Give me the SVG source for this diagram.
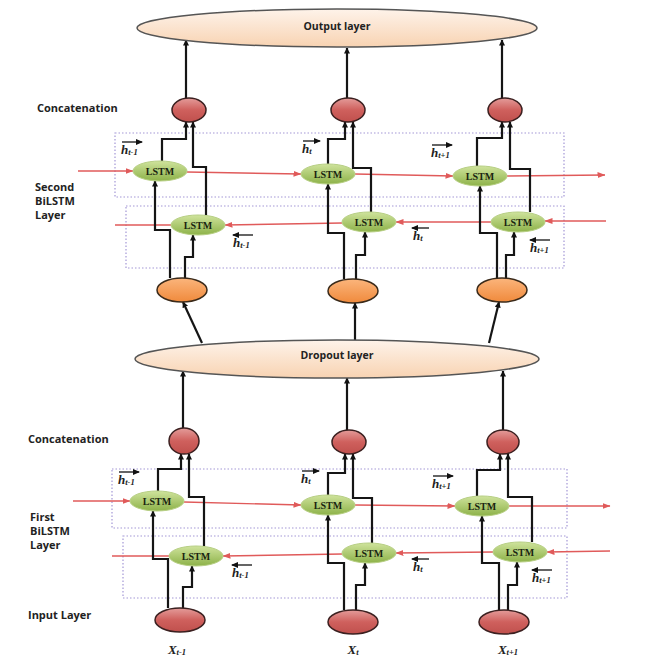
<svg xmlns="http://www.w3.org/2000/svg" width="660" height="667" viewBox="0 0 660 667">
<defs>
<linearGradient id="gPeach" x1="0" y1="0" x2="0" y2="1"><stop offset="0" stop-color="#fef3ea"/><stop offset="1" stop-color="#f8d3b2"/></linearGradient>
<linearGradient id="gRed" x1="0" y1="0" x2="0" y2="1"><stop offset="0" stop-color="#e49c9a"/><stop offset="0.5" stop-color="#cf605d"/><stop offset="1" stop-color="#c0504d"/></linearGradient>
<linearGradient id="gOrange" x1="0" y1="0" x2="0" y2="1"><stop offset="0" stop-color="#fbb57c"/><stop offset="1" stop-color="#f08a3c"/></linearGradient>
<linearGradient id="gGreen" x1="0" y1="0" x2="0" y2="1"><stop offset="0" stop-color="#cfe39c"/><stop offset="1" stop-color="#8db249"/></linearGradient>
<marker id="ab" markerWidth="6" markerHeight="6" refX="5.5" refY="3" orient="auto" markerUnits="userSpaceOnUse"><path d="M0,0 L6,3 L0,6 z" fill="#111"/></marker>
<marker id="ar" markerWidth="8" markerHeight="6" refX="7.5" refY="3" orient="auto" markerUnits="userSpaceOnUse"><path d="M0,0 L8,3 L0,6 z" fill="#e05a5a"/></marker>
<marker id="as" markerWidth="7" markerHeight="6" refX="6" refY="3" orient="auto" markerUnits="userSpaceOnUse"><path d="M0,0 L7,3 L0,6 z" fill="#111"/></marker>
</defs>
<style>
.layer{fill:url(#gPeach);stroke:#555;stroke-width:1.5}
.cat{fill:url(#gRed);stroke:#3b2020;stroke-width:1.5}
.inp{fill:url(#gRed);stroke:#3b2020;stroke-width:1.5}
.org{fill:url(#gOrange);stroke:#3a2a1a;stroke-width:1.5}
.lstm{fill:url(#gGreen);stroke:#b7cf84;stroke-width:1}
.box{fill:none;stroke:#a397d6;stroke-width:1.2;stroke-dasharray:1.5 2}
.red{fill:none;stroke:#e05a5a;stroke-width:1.4}
.redA{fill:none;stroke:#e05a5a;stroke-width:1.4;marker-end:url(#ar)}
.blk{fill:none;stroke:#151515;stroke-width:2.2;marker-end:url(#ab)}
.lbl{font-family:"Open Sans","Liberation Sans",sans-serif;font-weight:bold;font-size:11px;fill:#222}
.ltx{font-family:"Liberation Serif",serif;font-weight:bold;font-size:10px;fill:#1a2410;text-anchor:middle;dominant-baseline:central}
.lay{font-family:"Open Sans","Liberation Sans",sans-serif;font-weight:bold;font-size:10.5px;fill:#222;text-anchor:middle;dominant-baseline:central}
.h{font-family:"Liberation Serif",serif;font-weight:bold;font-style:italic;font-size:13px;fill:#222}
.sub{font-size:8.5px}
.ha{fill:none;stroke:#111;stroke-width:1.3;marker-end:url(#as)}
.x{font-family:"Liberation Serif",serif;font-weight:bold;font-style:italic;font-size:13px;fill:#222;text-anchor:middle}
</style>
<rect width="660" height="667" fill="#fff"/>

<!-- dotted boxes -->
<rect class="box" x="115" y="133" width="449" height="64"/>
<rect class="box" x="126" y="206" width="438" height="62"/>
<rect class="box" x="112" y="469" width="455" height="59"/>
<rect class="box" x="123" y="536" width="444" height="62"/>

<!-- side labels -->
<text class="lbl" x="37" y="112">Concatenation</text>
<text class="lbl" x="35" y="191">Second</text>
<text class="lbl" x="35" y="205">BiLSTM</text>
<text class="lbl" x="35" y="219">Layer</text>
<text class="lbl" x="28" y="443">Concatenation</text>
<text class="lbl" x="30" y="521">First</text>
<text class="lbl" x="30" y="535">BiLSTM</text>
<text class="lbl" x="30" y="549">Layer</text>
<text class="lbl" x="28" y="619">Input Layer</text>

<g id="connectors">
<!-- red recurrent lines, second layer -->
<path class="redA" d="M78,171 L133,171"/>
<path class="redA" d="M187,172 L301,174"/>
<path class="redA" d="M355,174 L453,176"/>
<path class="redA" d="M507,176 L605,175"/>
<path class="redA" d="M606,221 L545,221"/>
<path class="redA" d="M491,222 L396,222"/>
<path class="redA" d="M342,223 L225,225"/>
<path class="red" d="M171,225 L115,225"/>
<!-- red recurrent lines, first layer -->
<path class="redA" d="M73,501 L130,501"/>
<path class="redA" d="M184,502 L301,505"/>
<path class="redA" d="M355,505 L455,506"/>
<path class="redA" d="M509,506 L610,506"/>
<path class="redA" d="M610,551 L547,552"/>
<path class="redA" d="M493,552 L396,553"/>
<path class="redA" d="M342,554 L223,556"/>
<path class="red" d="M170,556 L112,556"/>

<!-- concat to output -->
<path class="blk" d="M186,98 V40"/>
<path class="blk" d="M347,98 V48"/>
<path class="blk" d="M502,98 V40"/>
<!-- dropout to orange -->
<path class="blk" d="M202,343 L183,302"/>
<path class="blk" d="M355,340 V303"/>
<path class="blk" d="M489,343 L499,302"/>
<!-- lower concat to dropout -->
<path class="blk" d="M183,428 V371"/>
<path class="blk" d="M347,430 V378"/>
<path class="blk" d="M503,430 V371"/>

<!-- second layer, left column -->
<path class="blk" d="M170,278 V230 H155 V181"/>
<path class="blk" d="M185,278 V257 H193 V235"/>
<path class="blk" d="M162,161 V139 H186 V122"/>
<path class="blk" d="M206,215 V167 H193 V122"/>
<!-- second layer, middle column -->
<path class="blk" d="M344,279 V233 H328 V184"/>
<path class="blk" d="M356,279 V255 H365 V232"/>
<path class="blk" d="M328,164 V139 H345 V122"/>
<path class="blk" d="M371,212 V168 H353 V122"/>
<!-- second layer, right column -->
<path class="blk" d="M497,278 V233 H480 V186"/>
<path class="blk" d="M506,278 V255 H514 V232"/>
<path class="blk" d="M477,166 V138 H502 V122"/>
<path class="blk" d="M530,212 V169 H510 V122"/>

<!-- first layer, left column -->
<path class="blk" d="M168,608 V559 H153 V511"/>
<path class="blk" d="M183,608 V587 H192 V566"/>
<path class="blk" d="M158,491 V469 H181 V454"/>
<path class="blk" d="M204,546 V497 H189 V454"/>
<!-- first layer, middle column -->
<path class="blk" d="M344,610 V563 H328 V515"/>
<path class="blk" d="M356,610 V585 H365 V563"/>
<path class="blk" d="M328,495 V473 H345 V454"/>
<path class="blk" d="M372,543 V498 H353 V454"/>
<!-- first layer, right column -->
<path class="blk" d="M499,610 V563 H482 V516"/>
<path class="blk" d="M508,610 V585 H517 V562"/>
<path class="blk" d="M477,496 V470 H500 V454"/>
<path class="blk" d="M532,542 V497 H508 V454"/>
</g>

<!-- layers -->
<g id="output-layer"><ellipse class="layer" cx="337" cy="28" rx="200" ry="19"/><text class="lay" x="337" y="26">Output layer</text></g>
<g id="dropout-layer"><ellipse class="layer" cx="337" cy="359" rx="202" ry="19"/><text class="lay" x="337" y="355">Dropout layer</text></g>

<!-- concatenation nodes -->
<g id="concat2-1"><ellipse class="cat" cx="189" cy="110" rx="17" ry="12"/></g>
<g id="concat2-2"><ellipse class="cat" cx="348" cy="110" rx="17" ry="12"/></g>
<g id="concat2-3"><ellipse class="cat" cx="505" cy="110" rx="17" ry="12"/></g>
<g id="concat1-1"><ellipse class="cat" cx="184" cy="441" rx="15" ry="13"/></g>
<g id="concat1-2"><ellipse class="cat" cx="349" cy="442" rx="17" ry="12"/></g>
<g id="concat1-3"><ellipse class="cat" cx="503" cy="442" rx="16" ry="12"/></g>

<!-- orange nodes -->
<g id="drop-out-1"><ellipse class="org" cx="182" cy="290" rx="25" ry="12"/></g>
<g id="drop-out-2"><ellipse class="org" cx="353" cy="291" rx="25" ry="12"/></g>
<g id="drop-out-3"><ellipse class="org" cx="502" cy="290" rx="25" ry="12"/></g>

<!-- LSTM nodes, second layer -->
<g id="lstm2-f1"><ellipse class="lstm" cx="160" cy="171" rx="27" ry="10"/><text class="ltx" x="160" y="171">LSTM</text></g>
<g id="lstm2-f2"><ellipse class="lstm" cx="328" cy="174" rx="27" ry="10"/><text class="ltx" x="328" y="174">LSTM</text></g>
<g id="lstm2-f3"><ellipse class="lstm" cx="480" cy="176" rx="27" ry="10"/><text class="ltx" x="480" y="176">LSTM</text></g>
<g id="lstm2-b1"><ellipse class="lstm" cx="198" cy="225" rx="27" ry="10"/><text class="ltx" x="198" y="225">LSTM</text></g>
<g id="lstm2-b2"><ellipse class="lstm" cx="369" cy="222" rx="27" ry="10"/><text class="ltx" x="369" y="222">LSTM</text></g>
<g id="lstm2-b3"><ellipse class="lstm" cx="518" cy="222" rx="27" ry="10"/><text class="ltx" x="518" y="222">LSTM</text></g>

<!-- LSTM nodes, first layer -->
<g id="lstm1-f1"><ellipse class="lstm" cx="157" cy="501" rx="27" ry="10"/><text class="ltx" x="157" y="501">LSTM</text></g>
<g id="lstm1-f2"><ellipse class="lstm" cx="328" cy="505" rx="27" ry="10"/><text class="ltx" x="328" y="505">LSTM</text></g>
<g id="lstm1-f3"><ellipse class="lstm" cx="482" cy="506" rx="27" ry="10"/><text class="ltx" x="482" y="506">LSTM</text></g>
<g id="lstm1-b1"><ellipse class="lstm" cx="196" cy="556" rx="27" ry="10"/><text class="ltx" x="196" y="556">LSTM</text></g>
<g id="lstm1-b2"><ellipse class="lstm" cx="369" cy="553" rx="27" ry="10"/><text class="ltx" x="369" y="553">LSTM</text></g>
<g id="lstm1-b3"><ellipse class="lstm" cx="520" cy="552" rx="27" ry="10"/><text class="ltx" x="520" y="552">LSTM</text></g>

<!-- input nodes -->
<g id="input-1"><ellipse class="inp" cx="180" cy="620" rx="25" ry="12"/><text class="x" x="177" y="654">X<tspan class="sub" dy="1">t-1</tspan></text></g>
<g id="input-2"><ellipse class="inp" cx="353" cy="622" rx="25" ry="12"/><text class="x" x="353" y="654">X<tspan class="sub" dy="1">t</tspan></text></g>
<g id="input-3"><ellipse class="inp" cx="504" cy="622" rx="25" ry="12"/><text class="x" x="508" y="654">X<tspan class="sub" dy="1">t+1</tspan></text></g>

<!-- hidden state labels -->
<g id="hlabels">
<path class="ha" d="M122,142 H142"/><text class="h" x="121" y="154">h<tspan class="sub" dy="1">t-1</tspan></text>
<path class="ha" d="M303,141 H320"/><text class="h" x="302" y="153">h<tspan class="sub" dy="1">t</tspan></text>
<path class="ha" d="M432,145 H452"/><text class="h" x="431" y="157">h<tspan class="sub" dy="1">t+1</tspan></text>
<path class="ha" d="M253,235 H233"/><text class="h" x="233" y="247">h<tspan class="sub" dy="1">t-1</tspan></text>
<path class="ha" d="M429,228 H412"/><text class="h" x="413" y="240">h<tspan class="sub" dy="1">t</tspan></text>
<path class="ha" d="M550,240 H530"/><text class="h" x="530" y="252">h<tspan class="sub" dy="1">t+1</tspan></text>
<path class="ha" d="M119,472 H139"/><text class="h" x="118" y="484">h<tspan class="sub" dy="1">t-1</tspan></text>
<path class="ha" d="M302,471 H319"/><text class="h" x="301" y="483">h<tspan class="sub" dy="1">t</tspan></text>
<path class="ha" d="M433,476 H453"/><text class="h" x="432" y="488">h<tspan class="sub" dy="1">t+1</tspan></text>
<path class="ha" d="M252,565 H232"/><text class="h" x="232" y="577">h<tspan class="sub" dy="1">t-1</tspan></text>
<path class="ha" d="M429,559 H412"/><text class="h" x="413" y="571">h<tspan class="sub" dy="1">t</tspan></text>
<path class="ha" d="M552,570 H532"/><text class="h" x="532" y="582">h<tspan class="sub" dy="1">t+1</tspan></text>
</g>
</svg>
